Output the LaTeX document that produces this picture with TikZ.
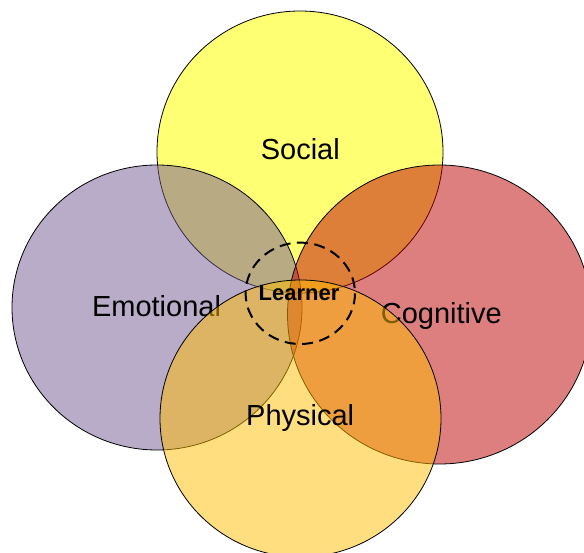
\documentclass[tikz,border=0pt]{standalone}
\usepackage{fontspec}
\setmainfont{Liberation Sans}
\definecolor{socialfill}{RGB}{255,255,0}
\definecolor{emotionfill}{RGB}{115,89,147}
\definecolor{cognitivefill}{RGB}{190,0,0}
\definecolor{physicalfill}{RGB}{255,189,0}
\begin{document}
\begin{tikzpicture}[x=1pt,y=-1pt,
  areadisc/.style={draw=black, line width=0.8pt, fill opacity=0.5},
  lbl/.style={anchor=base, inner sep=0pt, font=\fontsize{29}{34}\selectfont},
  centrelbl/.style={anchor=base, inner sep=0pt, font=\fontsize{22}{26}\selectfont\bfseries},
  learnerring/.style={draw=black, line width=2pt, dash pattern=on 11pt off 6.5pt}]
\useasboundingbox (0,0) rectangle (584,553);
\clip (0,0) rectangle (584,553);
% four overlapping domains, each drawn with its label so later fills tint it
\path[areadisc, fill=socialfill, fill opacity=0.55] (300,152) ellipse [x radius=143, y radius=141];
\node[lbl] (social) at (300.3,160) {Social};
\path[areadisc, fill=emotionfill] (157,307.5) ellipse [x radius=145, y radius=142.5];
\node[lbl] (emotional) at (156.5,316.7) {Emotional};
\path[areadisc, fill=cognitivefill] (439.5,314.5) ellipse [x radius=152, y radius=149.5];
\node[lbl] (cognitive) at (441.3,323.3) {Cognitive};
\path[areadisc, fill=physicalfill] (300.5,418.5) ellipse [x radius=140.5, y radius=138.5];
\node[lbl] (physical) at (300.2,425.7) {Physical};
% the learner at the centre
\path[learnerring] (300.3,293.3) ellipse [x radius=54.7, y radius=50.7];
\node[centrelbl] (learner) at (299,301) {Learner};
\end{tikzpicture}
\end{document}
